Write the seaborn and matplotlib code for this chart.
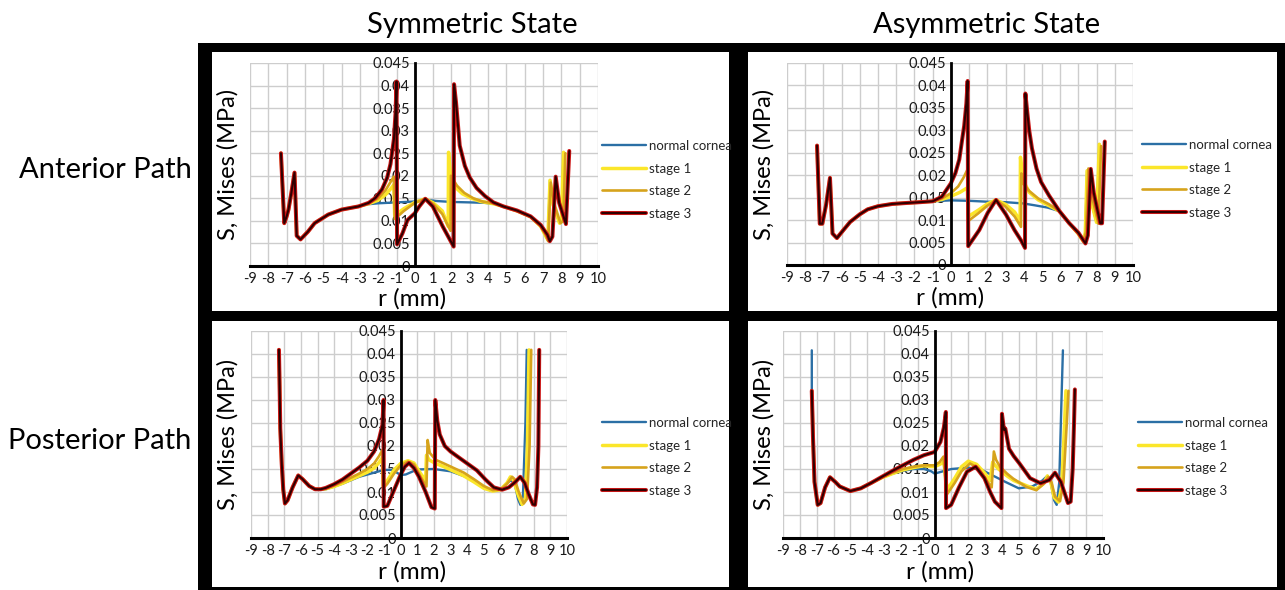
import matplotlib
matplotlib.use("Agg")
import numpy as np
import seaborn as sns
import matplotlib.pyplot as plt
import matplotlib.patheffects as pe
from matplotlib.patches import Rectangle

sns.set_theme(style="white")
plt.rcParams["font.family"] = ["Lato", "DejaVu Sans"]

# ---------------- data ----------------
series_names = ["normal cornea", "stage 1", "stage 2", "stage 3"]
x_ticks = list(range(-9, 11))
y_ticks = [0, 0.005, 0.01, 0.015, 0.02, 0.025, 0.03, 0.035, 0.04, 0.045]
y_tick_labels = ["0", "0.005", "0.01", "0.015", "0.02", "0.025", "0.03", "0.035", "0.04", "0.045"]

# Symmetric state, anterior path
sa_left_x = [-7.31, -7.13, -7.0, -6.9, -6.75, -6.57, -6.45, -6.24, -5.84, -5.47, -4.73, -4.0, -3.08]
sa_left_y = [0.0250, 0.0095, 0.0110, 0.0125, 0.0160, 0.0207, 0.0067, 0.0059, 0.0076, 0.0095, 0.0114, 0.0125, 0.0132]
sa_s3_x = [-2.52, -2.15, -1.79, -1.51, -1.33, -1.14, -1.05, -1.0, -0.97, -0.68, -0.4, 0.0, 0.24, 0.57, 0.98, 1.53, 2.12, 2.14,
           2.25, 2.45, 2.73, 3.0, 3.37, 3.83, 4.29, 4.84, 5.58, 6.32, 6.87, 7.24, 7.37, 7.51, 7.69, 7.88, 8.25, 8.43]
sa_s3_y = [0.0140, 0.0151, 0.0170, 0.0196, 0.0226, 0.0282, 0.0342, 0.0409, 0.0048, 0.0072, 0.0102, 0.0117, 0.0132, 0.0149, 0.0132,
           0.0087, 0.0043, 0.0403, 0.0362, 0.0267, 0.0222, 0.0196, 0.0173, 0.0155, 0.0141, 0.0132, 0.0123, 0.0110, 0.0091, 0.0069,
           0.0055, 0.0065, 0.0198, 0.0140, 0.0093, 0.0255]
sa_s2_x = [-2.52, -2.0, -1.6, -1.3, -1.15, -1.1, -0.6, 0.0, 0.57, 1.0, 1.5, 1.95, 1.97, 2.3, 2.7, 3.2, 3.7, 4.29, 4.84, 5.58,
           6.32, 6.87, 7.15, 7.28, 7.42, 7.6, 7.95, 8.1, 8.22]
sa_s2_y = [0.0139, 0.0150, 0.0168, 0.0188, 0.0198, 0.0104, 0.0122, 0.0140, 0.0149, 0.0138, 0.0115, 0.0078, 0.0200, 0.0178,
           0.0162, 0.0150, 0.0143, 0.0139, 0.0132, 0.0122, 0.0109, 0.0088, 0.0068, 0.0055, 0.0185, 0.0140, 0.0095, 0.0100, 0.0250]
sa_s1_x = [-2.52, -2.0, -1.6, -1.3, -1.15, -1.1, -0.6, 0.0, 0.57, 1.0, 1.5, 1.82, 1.84, 1.95, 2.2, 2.6, 3.1, 3.6, 4.29, 4.84,
           5.58, 6.32, 6.87, 7.15, 7.26, 7.38, 7.55, 7.9, 8.0, 8.12]
sa_s1_y = [0.0138, 0.0146, 0.0158, 0.0172, 0.0180, 0.0112, 0.0127, 0.0141, 0.0149, 0.0140, 0.0122, 0.0088, 0.0252, 0.0200,
           0.0175, 0.0160, 0.0150, 0.0143, 0.0138, 0.0132, 0.0122, 0.0109, 0.0088, 0.0066, 0.0058, 0.0190, 0.0135, 0.0095,
           0.0098, 0.0252]
sa_n_x = [-2.52, -2.0, -1.0, 0.0, 0.57, 1.2, 2.0, 3.0, 3.8, 4.29, 4.84, 5.58, 6.32, 6.87, 7.15, 7.26, 7.38, 7.55, 7.9, 8.0, 8.12]
sa_n_y = [0.0137, 0.0139, 0.0141, 0.0143, 0.0147, 0.0144, 0.0142, 0.0141, 0.0140, 0.0138, 0.0132, 0.0122, 0.0109, 0.0088,
          0.0066, 0.0058, 0.0190, 0.0135, 0.0095, 0.0098, 0.0252]

# Asymmetric state, anterior path
aa_left_x = [-7.35, -7.2, -7.06, -6.85, -6.64, -6.5, -6.26, -5.9, -5.53, -5.0, -4.57, -4.0, -3.22, -2.5, -1.69, -1.0]
aa_left_y = [0.0266, 0.0092, 0.0092, 0.0135, 0.0194, 0.0070, 0.0060, 0.0078, 0.0096, 0.0113, 0.0124, 0.0131, 0.0136, 0.0138,
             0.0140, 0.0142]
aa_s3_x = [-0.5, 0.0, 0.25, 0.46, 0.62, 0.73, 0.85, 0.92, 0.95, 1.56, 2.02, 2.48, 3.03, 3.49, 3.85, 4.07, 4.09, 4.2, 4.3, 4.45,
           4.7, 4.95, 5.4, 5.96, 6.5, 7.0, 7.39, 7.52, 7.68, 7.85, 8.2, 8.3, 8.45]
aa_s3_y = [0.0152, 0.0182, 0.0205, 0.0235, 0.0280, 0.0310, 0.0360, 0.0410, 0.0042, 0.0078, 0.0116, 0.0145, 0.0112, 0.0078,
           0.0055, 0.0038, 0.0382, 0.0338, 0.0300, 0.0260, 0.0215, 0.0185, 0.0154, 0.0120, 0.0093, 0.0072, 0.0048, 0.0066,
           0.0214, 0.0160, 0.0093, 0.0093, 0.0275]
aa_s2_x = [-0.5, 0.0, 0.4, 0.7, 0.9, 0.95, 1.5, 2.0, 2.48, 3.0, 3.5, 3.85, 3.87, 4.0, 4.3, 4.8, 5.4, 5.96, 6.5, 7.0, 7.3, 7.42,
           7.55, 7.7, 8.1, 8.25]
aa_s2_y = [0.0148, 0.0160, 0.0175, 0.0195, 0.0212, 0.0098, 0.0115, 0.0132, 0.0145, 0.0130, 0.0108, 0.0085, 0.0204, 0.0180,
           0.0165, 0.0148, 0.0135, 0.0120, 0.0093, 0.0070, 0.0052, 0.0075, 0.0215, 0.0160, 0.0092, 0.0265]
aa_s1_x = [-0.5, 0.0, 0.5, 0.9, 0.95, 1.5, 2.0, 2.48, 3.0, 3.5, 3.8, 3.82, 3.95, 4.3, 4.8, 5.4, 5.96, 6.5, 7.0, 7.28, 7.38,
           7.48, 7.65, 8.0, 8.15]
aa_s1_y = [0.0146, 0.0153, 0.0162, 0.0172, 0.0108, 0.0122, 0.0136, 0.0145, 0.0135, 0.0118, 0.0098, 0.0240, 0.0190, 0.0162,
           0.0145, 0.0132, 0.0120, 0.0093, 0.0069, 0.0052, 0.0072, 0.0210, 0.0150, 0.0095, 0.0269]
aa_n_x = [0.0, 1.0, 2.0, 3.0, 4.0, 4.6, 5.3, 5.96, 6.5, 7.0, 7.28, 7.38, 7.48, 7.65, 8.0, 8.15]
aa_n_y = [0.0144, 0.0143, 0.0141, 0.0140, 0.0137, 0.0133, 0.0128, 0.0120, 0.0093, 0.0069, 0.0052, 0.0072, 0.0210, 0.0150,
          0.0095, 0.0269]

# Symmetric state, posterior path
sp_left_x = [-7.32, -7.28, -7.24, -7.15, -7.06, -6.96, -6.8, -6.5, -6.16, -5.9, -5.5, -5.15, -4.8]
sp_left_y = [0.0409, 0.0330, 0.0238, 0.0160, 0.0105, 0.0075, 0.0082, 0.0110, 0.0136, 0.0128, 0.0113, 0.0106, 0.0106]
sp_s3_x = [-4.5, -4.0, -3.5, -3.0, -2.5, -2.0, -1.6, -1.3, -1.1, -1.03, -1.02, -0.8, -0.45, 0.0, 0.25, 0.5, 0.8, 1.1, 1.5, 1.85,
           2.05, 2.08, 2.2, 2.35, 2.65, 3.0, 3.42, 4.0, 4.58, 5.1, 5.6, 6.1, 6.5, 6.9, 7.19, 7.45, 7.7, 7.95, 8.08, 8.2, 8.28, 8.33]
sp_s3_y = [0.0109, 0.0117, 0.0127, 0.0140, 0.0153, 0.0168, 0.0188, 0.0215, 0.0245, 0.0300, 0.0068, 0.0070, 0.0100, 0.0138,
           0.0155, 0.0163, 0.0152, 0.0133, 0.0100, 0.0067, 0.0064, 0.0300, 0.0255, 0.0225, 0.0200, 0.0188, 0.0177, 0.0162,
           0.0147, 0.0127, 0.0110, 0.0105, 0.0110, 0.0122, 0.0133, 0.0120, 0.0095, 0.0073, 0.0072, 0.0110, 0.0200, 0.0409]
sp_s2_x = [-4.5, -4.0, -3.5, -3.0, -2.5, -2.0, -1.6, -1.3, -1.1, -1.05, -0.8, -0.4, 0.0, 0.44, 0.8, 1.2, 1.55, 1.62, 1.75, 2.1,
           2.6, 3.2, 3.8, 4.4, 5.0, 5.54, 6.0, 6.4, 6.7, 6.85, 7.1, 7.4, 7.6, 7.75, 7.85]
sp_s2_y = [0.0108, 0.0114, 0.0122, 0.0131, 0.0140, 0.0150, 0.0162, 0.0178, 0.0191, 0.0108, 0.0118, 0.0140, 0.0158, 0.0166,
           0.0160, 0.0133, 0.0112, 0.0213, 0.0185, 0.0170, 0.0162, 0.0152, 0.0142, 0.0128, 0.0113, 0.0104, 0.0105, 0.0118,
           0.0133, 0.0128, 0.0100, 0.0075, 0.0085, 0.0200, 0.0409]
sp_s1_x = [-4.5, -4.0, -3.5, -3.0, -2.5, -2.0, -1.6, -1.3, -1.1, -1.05, -0.8, -0.4, 0.0, 0.44, 0.8, 1.2, 1.5, 1.55, 1.7, 2.1,
           2.6, 3.2, 3.8, 4.4, 5.0, 5.54, 6.0, 6.4, 6.6, 6.8, 7.05, 7.3, 7.5, 7.62, 7.72]
sp_s1_y = [0.0107, 0.0112, 0.0119, 0.0127, 0.0135, 0.0143, 0.0152, 0.0164, 0.0175, 0.0112, 0.0125, 0.0148, 0.0162, 0.0168,
           0.0163, 0.0140, 0.0125, 0.0180, 0.0170, 0.0162, 0.0155, 0.0145, 0.0135, 0.0122, 0.0108, 0.0102, 0.0105, 0.0120,
           0.0133, 0.0125, 0.0095, 0.0073, 0.0085, 0.0200, 0.0409]
sp_n_x = [-4.5, -3.5, -2.5, -1.5, -1.0, -0.5, 0.0, 0.3, 1.0, 2.0, 3.0, 4.0, 4.8, 5.4, 6.0, 6.6, 6.85, 7.05, 7.2, 7.35, 7.5, 7.58]
sp_n_y = [0.0106, 0.0118, 0.0133, 0.0143, 0.0148, 0.0148, 0.0137, 0.0138, 0.0149, 0.0150, 0.0145, 0.0132, 0.0115, 0.0103,
          0.0106, 0.0125, 0.0120, 0.0085, 0.0072, 0.0090, 0.0250, 0.0409]

# Asymmetric state, posterior path
ap_left_x = [-7.29, -7.22, -7.13, -6.94, -6.77, -6.5, -6.21, -5.9, -5.63, -5.0, -4.38, -3.75]
ap_left_y = [0.0320, 0.0220, 0.0122, 0.0072, 0.0076, 0.0110, 0.0132, 0.0122, 0.0112, 0.0102, 0.0108, 0.0120]
ap_n_top_x = [-7.29]
ap_n_top_y = [0.0408]
ap_s3_x = [-3.13, -2.5, -1.88, -1.25, -0.63, 0.0, 0.35, 0.55, 0.67, 0.68, 0.98, 1.45, 1.92, 2.44, 2.96, 3.3, 3.58, 3.97, 4.0,
           4.12, 4.2, 4.42, 4.7, 5.04, 5.67, 6.29, 6.81, 7.15, 7.5, 7.92, 8.08, 8.2, 8.28, 8.33]
ap_s3_y = [0.0133, 0.0146, 0.0158, 0.0170, 0.0180, 0.0187, 0.0209, 0.0240, 0.0274, 0.0065, 0.0072, 0.0110, 0.0144, 0.0155,
           0.0130, 0.0100, 0.0079, 0.0065, 0.0270, 0.0235, 0.0238, 0.0194, 0.0178, 0.0162, 0.0130, 0.0119, 0.0126, 0.0142,
           0.0122, 0.0076, 0.0079, 0.0150, 0.0250, 0.0323]
ap_s2_x = [-3.13, -2.5, -1.88, -1.25, -0.63, 0.0, 0.3, 0.53, 0.7, 1.2, 1.6, 2.1, 2.6, 3.0, 3.39, 3.52, 3.65, 3.88, 4.3, 4.67,
           5.45, 6.04, 6.5, 6.75, 6.95, 7.15, 7.45, 7.65, 7.85, 7.95]
ap_s2_y = [0.0132, 0.0142, 0.0150, 0.0155, 0.0158, 0.0158, 0.0165, 0.0177, 0.0093, 0.0120, 0.0145, 0.0162, 0.0152, 0.0130,
           0.0110, 0.0188, 0.0170, 0.0155, 0.0140, 0.0129, 0.0111, 0.0104, 0.0118, 0.0133, 0.0120, 0.0090, 0.0080, 0.0120,
           0.0250, 0.0320]
ap_s1_x = [-3.13, -2.5, -1.88, -1.25, -0.63, 0.0, 0.3, 0.55, 0.75, 1.2, 1.6, 2.0, 2.5, 3.0, 3.3, 3.45, 3.55, 3.8, 4.3, 4.7, 5.5,
           6.04, 6.5, 6.7, 6.9, 7.1, 7.35, 7.55, 7.72, 7.8]
ap_s1_y = [0.0131, 0.0140, 0.0148, 0.0153, 0.0157, 0.0155, 0.0160, 0.0165, 0.0105, 0.0130, 0.0155, 0.0167, 0.0160, 0.0140,
           0.0125, 0.0165, 0.0160, 0.0150, 0.0135, 0.0125, 0.0113, 0.0106, 0.0120, 0.0135, 0.0122, 0.0088, 0.0078, 0.0110,
           0.0250, 0.0320]
ap_n_x = [-3.13, -2.5, -1.88, -1.25, -0.63, -0.2, 0.0, 0.3, 1.0, 2.0, 2.8, 3.5, 4.2, 5.0, 5.8, 6.4, 6.7, 6.9, 7.1, 7.25, 7.4,
          7.55, 7.62]
ap_n_y = [0.0131, 0.0140, 0.0146, 0.0150, 0.0150, 0.0145, 0.0140, 0.0143, 0.0150, 0.0153, 0.0148, 0.0135, 0.0122, 0.0108,
          0.0112, 0.0125, 0.0135, 0.0120, 0.0082, 0.0072, 0.0120, 0.0320, 0.0408]

panels = {
    "sa": [(sa_left_x + sa_n_x, sa_left_y + sa_n_y), (sa_left_x + sa_s1_x, sa_left_y + sa_s1_y),
           (sa_left_x + sa_s2_x, sa_left_y + sa_s2_y), (sa_left_x + sa_s3_x, sa_left_y + sa_s3_y)],
    "aa": [(aa_left_x + aa_n_x, aa_left_y + aa_n_y), (aa_left_x + aa_s1_x, aa_left_y + aa_s1_y),
           (aa_left_x + aa_s2_x, aa_left_y + aa_s2_y), (aa_left_x + aa_s3_x, aa_left_y + aa_s3_y)],
    "sp": [(sp_left_x + sp_n_x, sp_left_y + sp_n_y), (sp_left_x + sp_s1_x, sp_left_y + sp_s1_y),
           (sp_left_x + sp_s2_x, sp_left_y + sp_s2_y), (sp_left_x + sp_s3_x, sp_left_y + sp_s3_y)],
    "ap": [(ap_n_top_x + ap_left_x + ap_n_x, ap_n_top_y + ap_left_y + ap_n_y), (ap_left_x + ap_s1_x, ap_left_y + ap_s1_y),
           (ap_left_x + ap_s2_x, ap_left_y + ap_s2_y), (ap_left_x + ap_s3_x, ap_left_y + ap_s3_y)],
}

# ---------------- layout ----------------
W, H = 1285, 590
fig = plt.figure(figsize=(W / 100, H / 100), dpi=100)
fig.patch.set_facecolor("white")


def fbox(l, t, r, b):
    return [l / W, 1 - b / H, (r - l) / W, (b - t) / H]


fig.add_artist(Rectangle((198 / W, 0), (W - 198) / W, (H - 43) / H, transform=fig.transFigure,
                         facecolor="black", edgecolor="none", zorder=-5))

layout = {
    "sa": dict(panel=(212, 52, 729, 311), plot=(250, 63, 598, 266), leg=(602, 148), xl=0.466, yl=239),
    "aa": dict(panel=(748, 52, 1277, 311), plot=(787, 63, 1133, 265), leg=(1142, 147), xl=0.47, yl=775),
    "sp": dict(panel=(212, 321, 729, 587), plot=(251, 331, 567, 538), leg=(602, 425), xl=0.51, yl=239),
    "ap": dict(panel=(748, 321, 1277, 587), plot=(783, 331, 1103, 538), leg=(1138, 425), xl=0.49, yl=775),
}

colors = ["#2b6fa5", "#fbe62a", "#d6a31c", "#300000"]
widths = [1.7, 2.5, 1.9, 1.5]

for key, spec in layout.items():
    l, t, r, b = spec["panel"]
    fig.add_artist(Rectangle((l / W, 1 - b / H), (r - l) / W, (b - t) / H, transform=fig.transFigure,
                             facecolor="white", edgecolor="none", zorder=-4))
    ax = fig.add_axes(fbox(*spec["plot"]))
    ax.set_facecolor("white")
    handles = []
    for i, (xs, ys) in enumerate(panels[key]):
        sns.lineplot(x=np.array(xs), y=np.array(ys), sort=False, estimator=None, ax=ax,
                     color=colors[i], lw=widths[i], legend=False)
        ln = ax.lines[-1]
        ln.set_label(series_names[i])
        ln.set_solid_joinstyle("round")
        if i == 3:
            ln.set_path_effects([pe.Stroke(linewidth=2.9, foreground="#cc1616"), pe.Normal()])
        handles.append(ln)
    ax.set_xlim(-9, 10)
    ax.set_ylim(0, 0.045)
    ax.set_xticks(x_ticks)
    ax.set_xticklabels([str(v) for v in x_ticks])
    ax.set_yticks(y_ticks)
    ax.set_yticklabels(y_tick_labels)
    ax.set_axisbelow(True)
    ax.grid(True, color="#cdcdcd", lw=1.0)
    for s in ["top", "right"]:
        ax.spines[s].set_visible(False)
    ax.spines["left"].set_position(("data", 0))
    ax.spines["left"].set_color("black")
    ax.spines["left"].set_linewidth(2.0)
    ax.spines["bottom"].set_color("black")
    ax.spines["bottom"].set_linewidth(2.2)
    ax.tick_params(axis="x", length=0, pad=4, labelsize=10.5, colors="#1a1a1a")
    ax.tick_params(axis="y", length=3, width=1, pad=0.5, labelsize=10.5, colors="#1a1a1a", direction="out")
    ax.tick_params(axis="y", color="#999999")
    ax.set_xlabel("r (mm)", fontsize=17.5, color="black")
    ax.set_ylabel("S, Mises (MPa)", fontsize=17, color="black")
    pl, pt, pr, pb = spec["plot"]
    ax.xaxis.set_label_coords(spec["xl"], -0.11)
    ax.yaxis.set_label_coords((spec["yl"] - pl) / (pr - pl), 0.5)
    lx, ly = spec["leg"]
    ax.legend(handles=handles, labels=series_names, loc="upper left",
              bbox_to_anchor=(lx / W, 1 - (ly - 8) / H), bbox_transform=fig.transFigure,
              frameon=False, fontsize=9.5, handlelength=3.3, handletextpad=0.25,
              labelspacing=0.8, borderpad=0, borderaxespad=0)

fig.text(472 / W, 1 - 25 / H, "Symmetric State", ha="center", va="center", fontsize=21, color="black")
fig.text(987 / W, 1 - 25 / H, "Asymmetric State", ha="center", va="center", fontsize=21, color="black")
fig.text(105 / W, 1 - 170 / H, "Anterior Path", ha="center", va="center", fontsize=21, color="black")
fig.text(100 / W, 1 - 441 / H, "Posterior Path", ha="center", va="center", fontsize=21, color="black")

fig.savefig("out.png", dpi=100, facecolor="white")
